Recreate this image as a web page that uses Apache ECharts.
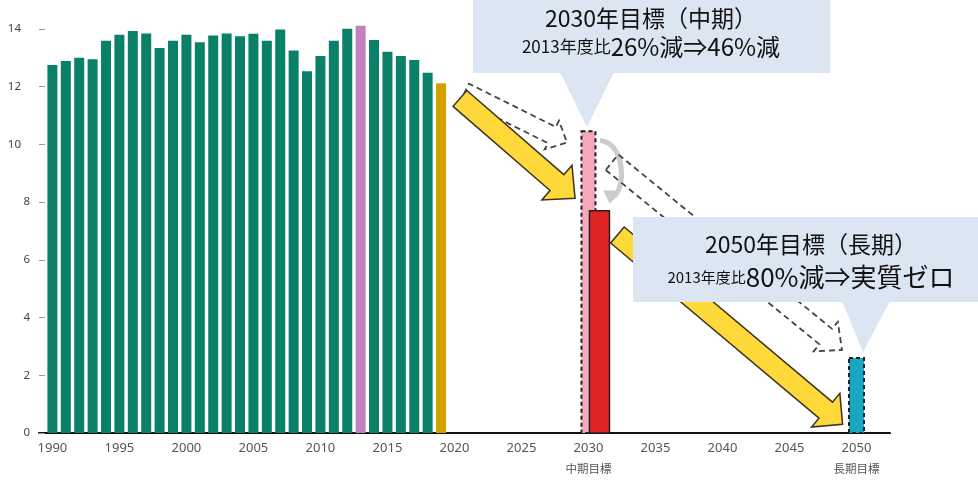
<!DOCTYPE html>
<html>
<head>
<meta charset="utf-8">
<script src="https://cdn.jsdelivr.net/npm/echarts@6/dist/echarts.min.js"></script>
<style>
html,body{margin:0;padding:0;background:#ffffff;}
#c{width:978px;height:480px;}
</style>
</head>
<body>
<div id="c"></div>
<script>
// ---------- data ----------
const years = [1990,1991,1992,1993,1994,1995,1996,1997,1998,1999,
               2000,2001,2002,2003,2004,2005,2006,2007,2008,2009,
               2010,2011,2012,2013,2014,2015,2016,2017,2018,2019];
const emissions = [12.75,12.89,13.00,12.95,13.59,13.80,13.93,13.84,13.34,13.59,
                   13.80,13.54,13.77,13.84,13.74,13.83,13.59,13.98,13.25,12.53,
                   13.06,13.59,14.00,14.11,13.61,13.21,13.06,12.92,12.48,12.12];
const baseYear = 2013;
const latestYear = 2019;
const targetYears = [2030, 2030, 2050];
const targetValues = [10.45, 7.7, 2.6];
const xTickYears = [1990,1995,2000,2005,2010,2015,2020,2025,2030,2035,2040,2045,2050];
const xSubLabels = {2030: '中期目標', 2050: '長期目標'};
const yTickValues = [0,2,4,6,8,10,12,14];

// ---------- styles / annotation layout (not data) ----------
const GREEN = '#0a8068', PURPLE = '#c080c0', GOLD = '#d4a000';
const targetStyles = [
  {width: 14, offset: 0,  fill: '#f5a9bb', stroke: '#222', lw: 2,   dash: [4, 3]},
  {width: 20, offset: 11, fill: '#e02424', stroke: '#222', lw: 1.5, dash: null},
  {width: 15, offset: 0,  fill: '#19a6c2', stroke: '#222', lw: 2,   dash: [4, 3]}
];
// arrows expressed in data space [year, value]
const yellowArrows = [
  {tail: [2020.41, 11.59], tip: [2029.0, 8.13], w: 21, hw: 46, hl: 24},
  {tail: [2032.16, 6.86],  tip: [2048.96, 0.30], w: 21, hw: 44, hl: 22}
];
const dashedArrows = [
  {tail: [2020.79, 11.82], tip: [2028.40, 10.06], w: 18, hw: 32, hl: 17},
  {tail: [2031.76, 9.38],  tip: [2048.92, 2.88],  w: 20, hw: 38, hl: 21}
];
const curveArrow = {
  start: [2030.86, 10.13], cp1: [2032.73, 10.06], cp2: [2032.88, 8.43], end: [2031.76, 8.15],
  head: [[2031.09, 8.40], [2032.36, 8.40], [2031.61, 7.93]]
};

const chart = echarts.init(document.getElementById('c'));

const histData = years.map((y, i) => [y, emissions[i]]);
const targetData = targetYears.map((y, i) => [y, targetValues[i]]);

chart.setOption({
  animation: false,
  backgroundColor: '#ffffff',
  grid: {left: 39, right: 88, top: -5.5, bottom: 43, containLabel: false},
  xAxis: {
    type: 'value', min: 1989, max: 2052.5, interval: 1,
    axisLine: {show: true, onZero: false, lineStyle: {color: '#111', width: 2}},
    axisTick: {show: false},
    splitLine: {show: false},
    axisLabel: {
      color: '#555', fontSize: 13, fontFamily: 'Noto Sans', margin: 5, lineHeight: 20,
      customValues: xTickYears,
      formatter: v => {
        if (!xTickYears.includes(v)) return '';
        return xSubLabels[v] ? v + '\n{s|' + xSubLabels[v] + '}' : String(v);
      },
      rich: {s: {fontSize: 11.5, lineHeight: 22, color: '#555', fontFamily: 'Noto Sans CJK JP'}}
    }
  },
  yAxis: {
    type: 'value', min: 0, max: 15, interval: 2,
    axisLine: {show: false},
    axisTick: {show: true, inside: true, length: 6, customValues: yTickValues, lineStyle: {color: '#999'}},
    splitLine: {show: false},
    axisLabel: {
      color: '#444', fontSize: 11.5, fontFamily: 'Noto Sans', margin: 9,
      customValues: yTickValues,
      formatter: v => yTickValues.includes(v) ? (v >= 10 ? '{w|' + v + '}' : String(v)) : '',
      rich: {w: {padding: [0, 9, 0, 0], fontSize: 11.5, color: '#444', fontFamily: 'Noto Sans'}}
    }
  },
  series: [
    {
      type: 'bar', data: histData, barWidth: 10,
      itemStyle: {
        color: p => p.value[0] === baseYear ? PURPLE : (p.value[0] === latestYear ? GOLD : GREEN)
      },
      z: 2
    },
    {
      type: 'custom', data: targetData, z: 3,
      renderItem: (params, api) => {
        const s = targetStyles[params.dataIndex];
        const top = api.coord([api.value(0), api.value(1)]);
        const base = api.coord([api.value(0), 0]);
        return {
          type: 'rect',
          shape: {x: top[0] + s.offset - s.width / 2, y: top[1], width: s.width, height: base[1] - top[1]},
          style: {fill: s.fill, stroke: s.stroke, lineWidth: s.lw, lineDash: s.dash}
        };
      }
    }
  ]
});

const toPx = p => chart.convertToPixel({seriesIndex: 0}, p);

function arrowPoints(a) {
  const T = toPx(a.tail), P = toPx(a.tip);
  const dx = P[0] - T[0], dy = P[1] - T[1];
  const L = Math.hypot(dx, dy);
  const ux = dx / L, uy = dy / L, nx = -uy, ny = ux;
  const B = [P[0] - ux * a.hl, P[1] - uy * a.hl];
  const w = a.w / 2, h = a.hw / 2;
  return [
    [T[0] + nx * w, T[1] + ny * w],
    [B[0] + nx * w, B[1] + ny * w],
    [B[0] + nx * h, B[1] + ny * h],
    [P[0], P[1]],
    [B[0] - nx * h, B[1] - ny * h],
    [B[0] - nx * w, B[1] - ny * w],
    [T[0] - nx * w, T[1] - ny * w]
  ];
}

const graphics = [];
dashedArrows.forEach(a => graphics.push({
  type: 'polygon', z: 9, shape: {points: arrowPoints(a)},
  style: {fill: 'none', stroke: '#444', lineWidth: 1.8, lineDash: [6, 4]}
}));
yellowArrows.forEach(a => graphics.push({
  type: 'polygon', z: 10, shape: {points: arrowPoints(a)},
  style: {fill: '#ffd83a', stroke: '#3a3320', lineWidth: 1.5}
}));
{
  const s = toPx(curveArrow.start), c1 = toPx(curveArrow.cp1), c2 = toPx(curveArrow.cp2), e = toPx(curveArrow.end);
  graphics.push({
    type: 'bezierCurve', z: 8,
    shape: {x1: s[0], y1: s[1], cpx1: c1[0], cpy1: c1[1], cpx2: c2[0], cpy2: c2[1], x2: e[0], y2: e[1]},
    style: {stroke: '#cccccc', lineWidth: 5, fill: 'none'}
  });
  graphics.push({
    type: 'polygon', z: 8, shape: {points: curveArrow.head.map(toPx)},
    style: {fill: '#cccccc'}
  });
}

// callouts (layout in px)
const CALLOUT_BG = '#dce6f2';
const CJK = 'Noto Sans CJK JP';
graphics.push(
  {type: 'rect', z: 20, shape: {x: 473, y: -5, width: 357, height: 78}, style: {fill: CALLOUT_BG}},
  {type: 'polygon', z: 20, shape: {points: [[560, 72], [614, 72], [587, 127]]}, style: {fill: CALLOUT_BG}},
  {type: 'text', z: 21, x: 651, y: 18, style: {text: '2030年目標（中期）', fill: '#111', fontSize: 23, fontFamily: CJK, align: 'center', verticalAlign: 'middle'}},
  {type: 'text', z: 21, x: 651, y: 47, style: {
    text: '{s|2013年度比}{b|26%減⇒46%減}', align: 'center', verticalAlign: 'middle',
    rich: {s: {fontSize: 17, fontFamily: CJK, fill: '#111'}, b: {fontSize: 24, fontFamily: CJK, fill: '#111'}}
  }},
  {type: 'rect', z: 20, shape: {x: 633, y: 217, width: 350, height: 85}, style: {fill: CALLOUT_BG}},
  {type: 'polygon', z: 20, shape: {points: [[842, 301], [890, 301], [863, 352]]}, style: {fill: CALLOUT_BG}},
  {type: 'text', z: 21, x: 811, y: 244, style: {text: '2050年目標（長期）', fill: '#111', fontSize: 23, fontFamily: CJK, align: 'center', verticalAlign: 'middle'}},
  {type: 'text', z: 21, x: 811, y: 277, style: {
    text: '{s|2013年度比}{b|80%減⇒実質ゼロ}', align: 'center', verticalAlign: 'middle',
    rich: {s: {fontSize: 15, fontFamily: CJK, fill: '#111'}, b: {fontSize: 26, fontFamily: CJK, fill: '#111'}}
  }}
);

chart.setOption({graphic: {elements: graphics}});
</script>
</body>
</html>
